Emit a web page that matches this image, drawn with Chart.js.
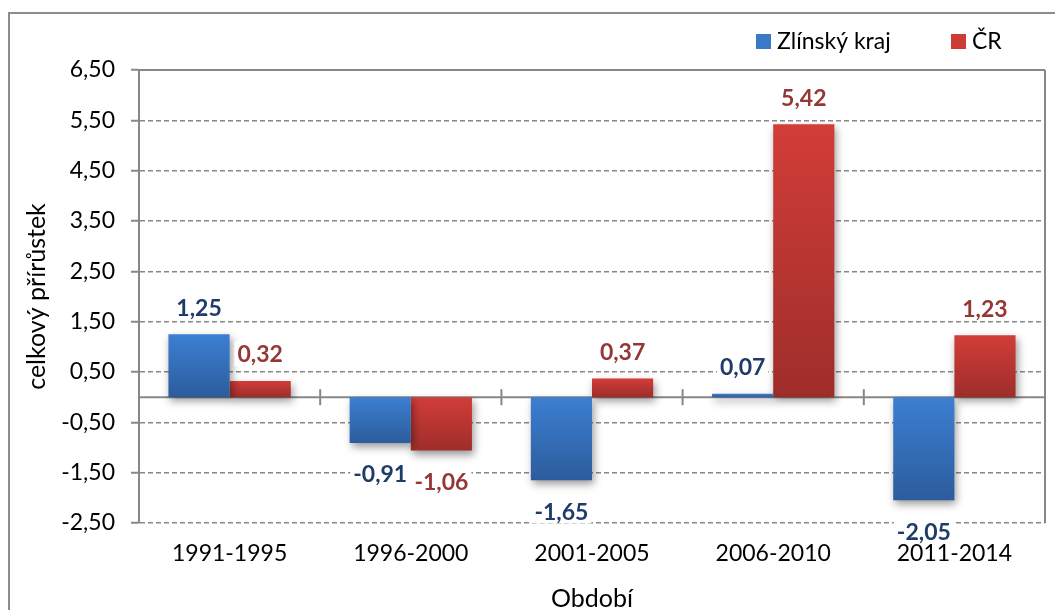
<!DOCTYPE html>
<html>
<head>
<meta charset="utf-8">
<script src="https://cdn.jsdelivr.net/npm/chart.js@4.4.1/dist/chart.umd.min.js"></script>
<style>
  html, body { margin: 0; padding: 0; background: #fff; }
  #wrap { position: absolute; left: 0; top: 0; width: 1055px; height: 610px; }
  #frame { position: absolute; left: 8px; top: 12px; width: 1060px; height: 620px;
           border-left: 2px solid #8c8c8c; border-top: 2px solid #8c8c8c; box-sizing: border-box; }
  canvas { position: absolute; left: 0; top: 0; }
</style>
</head>
<body>
<div id="wrap">
  <div id="frame"></div>
  <canvas id="c" width="1055" height="610"></canvas>
</div>
<script>
const categories = ['1991-1995', '1996-2000', '2001-2005', '2006-2010', '2011-2014'];
const zlinskyKraj = [1.25, -0.91, -1.65, 0.07, -2.05];
const cr = [0.32, -1.06, 0.37, 5.42, 1.23];
const seriesNames = ['Zlínský kraj', 'ČR'];
const yTickValues = [-2.5, -1.5, -0.5, 0.5, 1.5, 2.5, 3.5, 4.5, 5.5, 6.5];
const yAxisTitle = 'celkový přírůstek';
const xAxisTitle = 'Období';

const FONT = 'Lato, "Open Sans", sans-serif';
const GRID = '#878787';
const palette = [
  { top: '#3c7fd2', bottom: '#2c5c9c', label: '#1f3c68', legend: '#3a78c8' },
  { top: '#d23d38', bottom: '#9e2d2a', label: '#953735', legend: '#cc3b36' }
];

function fmt(v) { return v.toFixed(2).replace('.', ','); }

function barGradient(ctx, idx) {
  const chart = ctx.chart;
  const p = palette[idx];
  if (!chart.chartArea || !chart.scales.y || ctx.type !== 'data') return p.top;
  const v = ctx.raw;
  const ys = chart.scales.y;
  const t = ys.getPixelForValue(Math.max(v, 0));
  const b = ys.getPixelForValue(Math.min(v, 0));
  if (!isFinite(t) || !isFinite(b) || Math.abs(b - t) < 0.5) return p.top;
  const g = chart.ctx.createLinearGradient(0, t, 0, b);
  g.addColorStop(0, p.top);
  g.addColorStop(1, p.bottom);
  return g;
}

const decor = {
  id: 'decor',
  beforeDatasetsDraw(chart) {
    const ctx = chart.ctx;
    const { left, right, top, bottom } = chart.chartArea;
    const ys = chart.scales.y, xs = chart.scales.x;
    ctx.save();
    ctx.strokeStyle = GRID;
    ctx.lineWidth = 2;
    ctx.setLineDash([]);
    ctx.beginPath(); ctx.moveTo(left, top); ctx.lineTo(right, top); ctx.stroke();
    ctx.beginPath(); ctx.moveTo(right, top); ctx.lineTo(right, bottom); ctx.stroke();
    const y0 = ys.getPixelForValue(0);
    ctx.beginPath(); ctx.moveTo(left, y0); ctx.lineTo(right, y0); ctx.stroke();
    for (let i = 0; i < categories.length - 1; i++) {
      const xb = (xs.getPixelForValue(i) + xs.getPixelForValue(i + 1)) / 2;
      ctx.beginPath(); ctx.moveTo(xb, y0 - 8); ctx.lineTo(xb, y0 + 8); ctx.stroke();
    }
    ctx.restore();
    ctx.save();
    ctx.shadowColor = 'rgba(0,0,0,0.4)';
    ctx.shadowBlur = 8;
    ctx.shadowOffsetX = 2;
    ctx.shadowOffsetY = 4;
  },
  afterDatasetsDraw(chart) {
    const ctx = chart.ctx;
    ctx.restore();
    ctx.save();
    ctx.font = 'bold 23px ' + FONT;
    ctx.textAlign = 'center';
    ctx.textBaseline = 'middle';
    chart.data.datasets.forEach((ds, di) => {
      const meta = chart.getDatasetMeta(di);
      meta.data.forEach((el, i) => {
        const v = ds.data[i];
        const txt = fmt(v);
        const y = v >= 0 ? el.y - 27 : el.y + 31;
        const w = ctx.measureText(txt).width;
        ctx.fillStyle = '#ffffff';
        ctx.fillRect(el.x - w / 2 - 3, y - 12, w + 6, 24);
        ctx.fillStyle = palette[di].label;
        ctx.fillText(txt, el.x, y + 1);
      });
    });
    ctx.font = '23px ' + FONT;
    ctx.textAlign = 'left';
    ctx.textBaseline = 'middle';
    const items = [{ x: 756, name: seriesNames[0] }, { x: 951, name: seriesNames[1] }];
    items.forEach((it, k) => {
      ctx.fillStyle = palette[k].legend;
      ctx.fillRect(it.x, 34, 15, 15);
      ctx.fillStyle = '#000';
      ctx.fillText(it.name, it.x + 21, 42);
    });
    ctx.restore();
  }
};

new Chart(document.getElementById('c'), {
  type: 'bar',
  data: {
    labels: categories,
    datasets: [
      { label: seriesNames[0], data: zlinskyKraj, backgroundColor: (c) => barGradient(c, 0) },
      { label: seriesNames[1], data: cr, backgroundColor: (c) => barGradient(c, 1) }
    ]
  },
  plugins: [decor],
  options: {
    responsive: false,
    animation: false,
    devicePixelRatio: 1,
    layout: { padding: { left: 0, top: 70, right: 10, bottom: 0 } },
    datasets: { bar: { categoryPercentage: 0.675, barPercentage: 1.0, borderWidth: 0 } },
    plugins: { legend: { display: false }, tooltip: { enabled: false } },
    scales: {
      x: {
        grid: { display: false, drawTicks: false },
        border: { display: false },
        ticks: { color: '#000', font: { family: FONT, size: 23 }, padding: 17, maxRotation: 0 },
        title: { display: true, text: xAxisTitle, color: '#000', font: { family: FONT, size: 25 }, padding: { top: 10, bottom: -4 } },
        afterFit(s) { s.height = 87; }
      },
      y: {
        min: -2.5, max: 6.5,
        afterBuildTicks(s) { s.ticks = yTickValues.map(v => ({ value: v })); },
        ticks: { color: '#000', font: { family: FONT, size: 23 }, padding: 16, callback: (v) => fmt(v) },
        grid: { color: GRID, lineWidth: 1.5, tickLength: 8, tickColor: GRID, tickWidth: 2 },
        border: { display: true, color: GRID, width: 2, dash: [5, 3] },
        title: { display: true, text: yAxisTitle, color: '#000', font: { family: FONT, size: 25 }, padding: { top: 22, bottom: 0 } },
        afterFit(s) { s.width = 139; }
      }
    }
  }
});
</script>
</body>
</html>
